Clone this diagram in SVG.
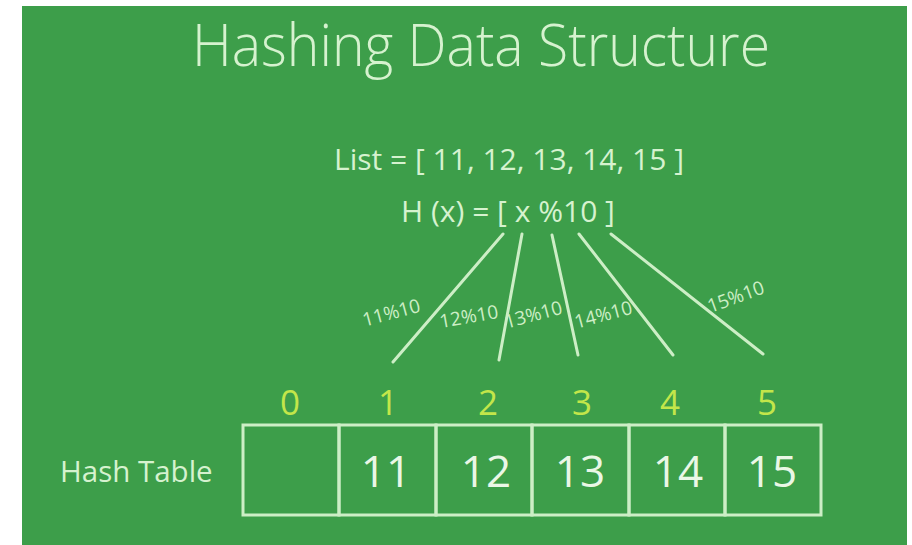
<svg xmlns="http://www.w3.org/2000/svg" width="912" height="545" viewBox="0 0 912 545">
  <style>
    .txt { font-family: "Open Sans", "Noto Sans", "DejaVu Sans", sans-serif; fill: #d6f2cf; }
    .title { font-size: 59px; font-weight: 300; }
    .formula { font-size: 30px; }
    .calc { font-size: 19px; fill: #cdeec6; }
    .idx { font-size: 35px; fill: #c3e64a; text-anchor: middle; }
    .val { font-size: 44px; fill: #eaf7e6; text-anchor: middle; }
    .label { font-size: 29.5px; fill: #d6f2cf; }
    .cell { fill: none; stroke: #cdeec6; stroke-width: 3; }
    .link { stroke: #cdeec6; stroke-width: 3; stroke-linecap: round; }
  </style>

  <!-- page and green panel -->
  <rect x="0" y="0" width="912" height="545" fill="#ffffff"/>
  <rect x="22" y="6" width="885" height="539" fill="#3d9e4a"/>

  <!-- heading and formulas -->
  <g id="title">
    <text class="txt title" x="481" y="66" text-anchor="middle" textLength="578" lengthAdjust="spacingAndGlyphs">Hashing Data Structure</text>
  </g>
  <g id="list">
    <text class="txt formula" x="509" y="170" text-anchor="middle">List = [ 11, 12, 13, 14, 15 ]</text>
  </g>
  <g id="hash-function">
    <text class="txt formula" x="508" y="222" text-anchor="middle">H (x) = [ x %10 ]</text>
  </g>

  <!-- connectors from the hash function to the buckets -->
  <g id="connectors">
    <line class="link" x1="503" y1="234" x2="393" y2="362"/>
    <line class="link" x1="522" y1="234" x2="499" y2="360"/>
    <line class="link" x1="552" y1="235" x2="578" y2="355"/>
    <line class="link" x1="579" y1="234" x2="673" y2="355"/>
    <line class="link" x1="611" y1="234" x2="763" y2="354"/>
    <text class="txt calc" transform="translate(393 319) rotate(-15)" text-anchor="middle">11%10</text>
    <text class="txt calc" transform="translate(470 323) rotate(-10)" text-anchor="middle">12%10</text>
    <text class="txt calc" transform="translate(535 321) rotate(-15)" text-anchor="middle">13%10</text>
    <text class="txt calc" transform="translate(605 321) rotate(-15)" text-anchor="middle">14%10</text>
    <text class="txt calc" transform="translate(738 303) rotate(-20)" text-anchor="middle">15%10</text>
  </g>

  <!-- hash table -->
  <g id="hash-table-label">
    <text class="txt label" x="60" y="482">Hash Table</text>
  </g>
  <g id="bucket-0">
    <text class="txt idx" x="290" y="415">0</text>
    <rect class="cell" x="243" y="425" width="96" height="90"/>
  </g>
  <g id="bucket-1">
    <text class="txt idx" x="388" y="415">1</text>
    <rect class="cell" x="339" y="425" width="97" height="90"/>
    <text class="txt val" x="386" y="487">11</text>
  </g>
  <g id="bucket-2">
    <text class="txt idx" x="488" y="415">2</text>
    <rect class="cell" x="436" y="425" width="96" height="90"/>
    <text class="txt val" x="486" y="487">12</text>
  </g>
  <g id="bucket-3">
    <text class="txt idx" x="582" y="415">3</text>
    <rect class="cell" x="532" y="425" width="97" height="90"/>
    <text class="txt val" x="580" y="487">13</text>
  </g>
  <g id="bucket-4">
    <text class="txt idx" x="670" y="415">4</text>
    <rect class="cell" x="629" y="425" width="96" height="90"/>
    <text class="txt val" x="678" y="487">14</text>
  </g>
  <g id="bucket-5">
    <text class="txt idx" x="767" y="415">5</text>
    <rect class="cell" x="725" y="425" width="96" height="90"/>
    <text class="txt val" x="772" y="487">15</text>
  </g>
</svg>
